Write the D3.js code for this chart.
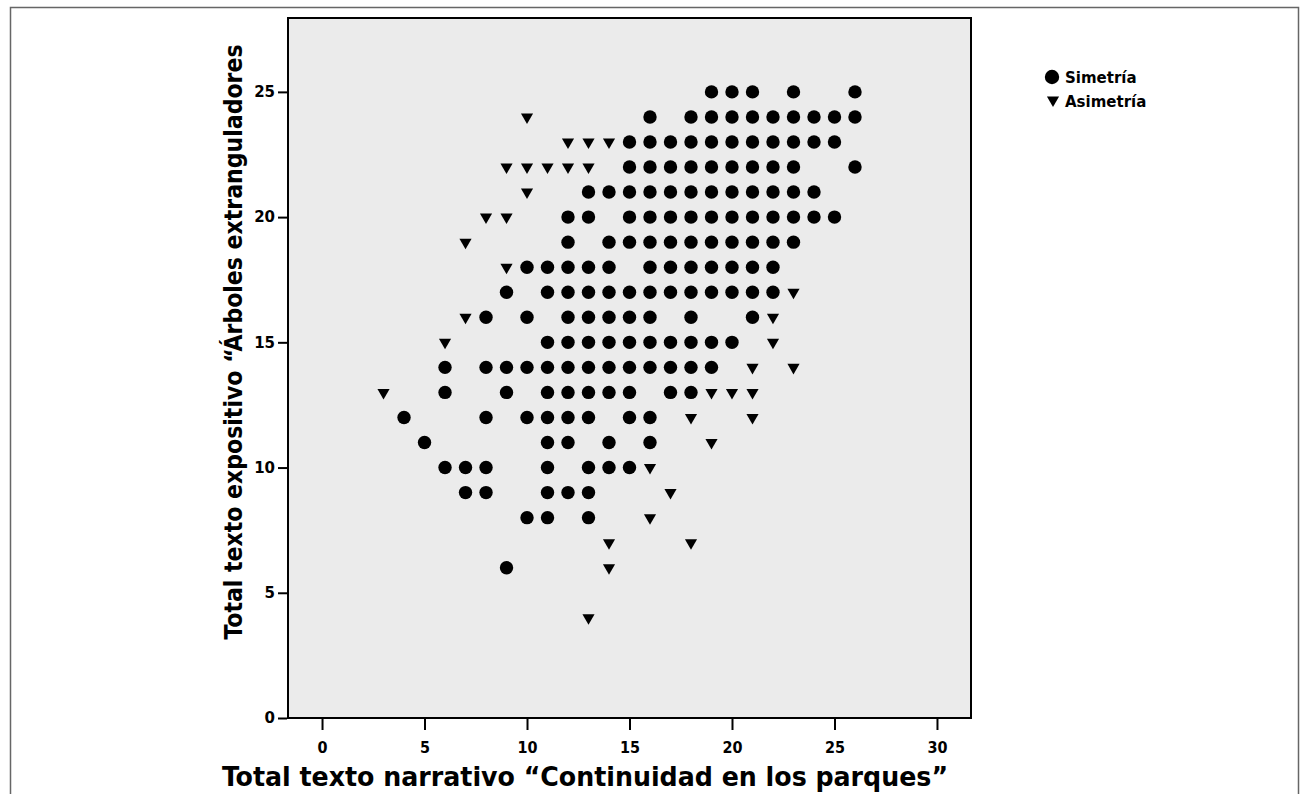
<!DOCTYPE html>
<html>
<head>
<meta charset="utf-8">
<script src="https://cdn.jsdelivr.net/npm/d3@7"></script>
<style>
  body { margin: 0; background: #fff; }
  .cond { font-family: "Liberation Sans Narrow", "DejaVu Sans Condensed", sans-serif; font-weight: bold; }
  .wide { font-family: "DejaVu Sans", sans-serif; font-weight: bold; }
</style>
</head>
<body>
<svg width="1309" height="794"></svg>
<script>
// data: [y value, x values on that row]
const simetria = [
  [25, [19, 20, 21, 23, 26]],
  [24, [16, 18, 19, 20, 21, 22, 23, 24, 25, 26]],
  [23, [15, 16, 17, 18, 19, 20, 21, 22, 23, 24, 25]],
  [22, [15, 16, 17, 18, 19, 20, 21, 22, 23, 26]],
  [21, [13, 14, 15, 16, 17, 18, 19, 20, 21, 22, 23, 24]],
  [20, [12, 13, 15, 16, 17, 18, 19, 20, 21, 22, 23, 24, 25]],
  [19, [12, 14, 15, 16, 17, 18, 19, 20, 21, 22, 23]],
  [18, [10, 11, 12, 13, 14, 16, 17, 18, 19, 20, 21, 22]],
  [17, [9, 11, 12, 13, 14, 15, 16, 17, 18, 19, 20, 21, 22]],
  [16, [8, 10, 12, 13, 14, 15, 16, 18, 21]],
  [15, [11, 12, 13, 14, 15, 16, 17, 18, 19, 20]],
  [14, [6, 8, 9, 10, 11, 12, 13, 14, 15, 16, 17, 18, 19]],
  [13, [6, 9, 11, 12, 13, 14, 15, 17, 18]],
  [12, [4, 8, 10, 11, 12, 13, 15, 16]],
  [11, [5, 11, 12, 14, 16]],
  [10, [6, 7, 8, 11, 13, 14, 15]],
  [9, [7, 8, 11, 12, 13]],
  [8, [10, 11, 13]],
  [6, [9]]
];
const asimetria = [
  [24, [10]],
  [23, [12, 13, 14]],
  [22, [9, 10, 11, 12, 13]],
  [21, [10]],
  [20, [8, 9]],
  [19, [7]],
  [18, [9]],
  [17, [23]],
  [16, [7, 22]],
  [15, [6, 22]],
  [14, [21, 23]],
  [13, [3, 19, 20, 21]],
  [12, [18, 21]],
  [11, [19]],
  [10, [16]],
  [9, [17]],
  [8, [16]],
  [7, [14, 18]],
  [6, [14]],
  [4, [13]]
];
const xTicks = [0, 5, 10, 15, 20, 25, 30];
const yTicks = [0, 5, 10, 15, 20, 25];
const legendLabels = ["Simetría", "Asimetría"];
const xTitle = "Total texto narrativo \u201CContinuidad en los parques\u201D";
const yTitle = "Total texto expositivo \u201C\u00C1rboles extranguladores";

const svg = d3.select("svg");

const pLeft = 288, pRight = 971, pTop = 18, pBottom = 718;

const x = d3.scaleLinear().domain([-1.66, 31.66]).range([pLeft, pRight]);
const y = d3.scaleLinear().domain([0, 27.95]).range([pBottom, pTop]);

// outer frame
svg.append("rect")
  .attr("x", 10.5).attr("y", 7.5)
  .attr("width", 1288).attr("height", 800)
  .attr("fill", "none").attr("stroke", "#666").attr("stroke-width", 1.5);

// plot area
svg.append("rect")
  .attr("x", pLeft).attr("y", pTop)
  .attr("width", pRight - pLeft).attr("height", pBottom - pTop)
  .attr("fill", "#ebebeb").attr("stroke", "#000").attr("stroke-width", 2);

// axes
const yAxis = svg.append("g")
  .attr("transform", `translate(${pLeft - 1},0)`)
  .call(d3.axisLeft(y).tickValues(yTicks).tickSize(9).tickPadding(3));
yAxis.select(".domain").remove();
yAxis.selectAll("line").attr("stroke", "#000").attr("stroke-width", 2);
yAxis.selectAll("text").attr("class", "wide").style("font-size", "15px").attr("fill", "#000");

const xAxis = svg.append("g")
  .attr("transform", `translate(0,${pBottom + 1})`)
  .call(d3.axisBottom(x).tickValues(xTicks).tickSize(11).tickPadding(12));
xAxis.select(".domain").remove();
xAxis.selectAll("line").attr("stroke", "#000").attr("stroke-width", 2);
xAxis.selectAll("text").attr("class", "cond").style("font-size", "16px").attr("fill", "#000");

// titles
svg.append("text")
  .attr("class", "cond")
  .attr("x", 585).attr("y", 786)
  .attr("text-anchor", "middle")
  .attr("textLength", 726).attr("lengthAdjust", "spacingAndGlyphs")
  .style("font-size", "26px")
  .text(xTitle);

svg.append("text")
  .attr("class", "cond")
  .attr("transform", "translate(242,342) rotate(-90)")
  .attr("text-anchor", "middle")
  .attr("textLength", 595).attr("lengthAdjust", "spacingAndGlyphs")
  .style("font-size", "24px")
  .text(yTitle);

// points
const flat = rows => rows.flatMap(([yv, xs]) => xs.map(xv => ({ x: xv, y: yv })));

svg.append("g")
  .selectAll("circle")
  .data(flat(simetria))
  .join("circle")
    .attr("cx", d => x(d.x))
    .attr("cy", d => y(d.y))
    .attr("r", 6.7)
    .attr("fill", "#000");

const tri = d3.symbol().type(d3.symbolTriangle).size(64);
svg.append("g")
  .selectAll("path")
  .data(flat(asimetria))
  .join("path")
    .attr("d", tri)
    .attr("transform", d => `translate(${x(d.x)},${y(d.y)}) rotate(180)`)
    .attr("fill", "#000");

// legend
const lg = svg.append("g").attr("transform", "translate(1052,77)");
lg.append("circle").attr("cx", 0).attr("cy", 0).attr("r", 7.2).attr("fill", "#000");
lg.append("path").attr("d", tri).attr("transform", "translate(1,23) rotate(180)").attr("fill", "#000");
lg.selectAll("text.lab")
  .data(legendLabels)
  .join("text")
    .attr("class", "wide")
    .attr("x", 13)
    .attr("y", (d, i) => i * 24 + 5.5)
    .style("font-size", "15px")
    .text(d => d);
</script>
</body>
</html>
